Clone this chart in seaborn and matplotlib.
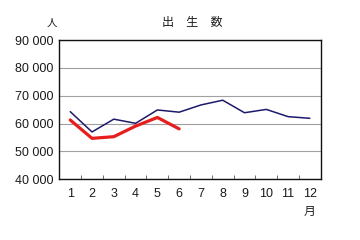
import matplotlib
matplotlib.use("Agg")
import matplotlib.pyplot as plt
import seaborn as sns
import pandas as pd
import numpy as np
from matplotlib.ticker import FixedLocator, FuncFormatter

months = [1, 2, 3, 4, 5, 6, 7, 8, 9, 10, 11, 12]
prev_year = [64300, 57000, 61600, 60100, 64900, 64100, 66700, 68400, 63900, 65100, 62500, 61900]
cur_months = [1, 2, 3, 4, 5, 6]
cur_year = [61300, 54700, 55300, 59100, 62200, 58100]
yticks = [40000, 50000, 60000, 70000, 80000, 90000]

sns.set_theme(style="white")
plt.rcParams['font.family'] = ['Liberation Sans', 'Noto Sans CJK JP', 'DejaVu Sans']

fig = plt.figure(figsize=(3.6, 2.4), dpi=100)
ax = fig.add_axes([0.1648, 0.253, 0.7262, 0.58])

df_prev = pd.DataFrame({"month": months, "births": prev_year})
df_cur = pd.DataFrame({"month": cur_months, "births": cur_year})
sns.lineplot(data=df_prev, x="month", y="births", ax=ax, color="#1c1a6b", linewidth=1.1)
sns.lineplot(data=df_cur, x="month", y="births", ax=ax, color="#e61e1e", linewidth=2.3)

ax.set_xlim(0.5, 12.5)
ax.set_ylim(40000, 90000)
ax.yaxis.set_major_locator(FixedLocator(yticks))
ax.yaxis.set_major_formatter(FuncFormatter(lambda v, p: f"{int(v):,}".replace(",", " ")))
ax.set_xticks(months)
ax.set_xticks([m + 0.5 for m in months[:-1]], minor=True)
ax.tick_params(axis="x", which="major", length=0, pad=6, labelsize=9, colors="#1a1a1a")
ax.tick_params(axis="x", which="minor", direction="in", length=3, width=0.6, color="#555555", bottom=True)
ax.tick_params(axis="y", which="major", length=0, pad=4, labelsize=9, colors="#1a1a1a")
ax.grid(axis="y", color="#a0a0a0", linewidth=0.8)
ax.set_axisbelow(True)
for s in ax.spines.values():
    s.set_color("#111111")
    s.set_linewidth(1.0)
ax.set_xlabel("")
ax.set_ylabel("")

fig.text(0.535, 0.905, "出　生　数", ha="center", va="center", fontsize=8.7,
         family=['Noto Sans CJK JP', 'DejaVu Sans'], color="#1a1a1a")
fig.text(0.145, 0.905, "人", ha="center", va="center", fontsize=7.5,
         family=['Noto Sans CJK JP', 'DejaVu Sans'], color="#1a1a1a")
fig.text(0.86, 0.118, "月", ha="center", va="center", fontsize=8.5,
         family=['Noto Sans CJK JP', 'DejaVu Sans'], color="#1a1a1a")

fig.savefig("out.png", dpi=100)
